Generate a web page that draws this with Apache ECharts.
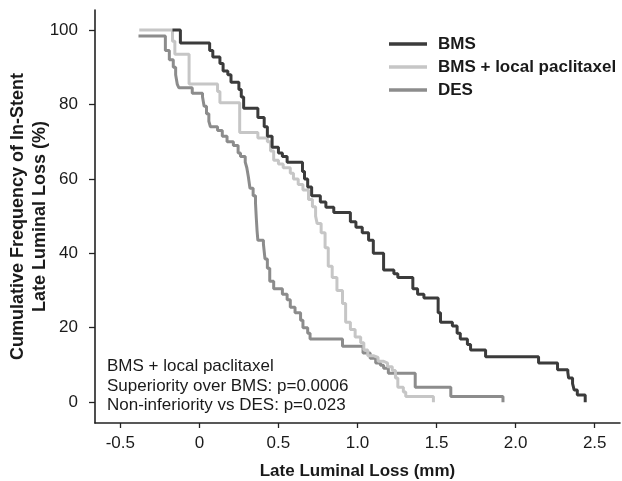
<!DOCTYPE html>
<html>
<head>
<meta charset="utf-8">
<script src="https://cdn.jsdelivr.net/npm/echarts@6/dist/echarts.min.js"></script>
<style>
html,body{margin:0;padding:0;background:#fff;}
#chart{width:622px;height:481px;}
</style>
</head>
<body>
<div id="chart"></div>
<script>
// ---- data ----
var seriesNames = ['BMS', 'BMS + local paclitaxel', 'DES'];

var bmsX = [-0.17,-0.12,0.065,0.085,0.13,0.15,0.18,0.20,0.25,0.265,0.28,0.37,0.41,0.43,0.46,0.50,0.525,0.555,0.652,0.665,0.685,0.71,0.765,0.80,0.85,0.955,0.99,1.03,1.07,1.10,1.165,1.23,1.255,1.35,1.38,1.42,1.51,1.525,1.60,1.63,1.65,1.695,1.715,1.81,2.145,2.265,2.33,2.335,2.36,2.37,2.39,2.44];
var bmsY = [100,96.5,94.5,92.8,91,89,88,86,84,82,79,76.5,74,71.5,68.5,67,66,64.5,62,60,57.8,55.5,53.8,52.4,51,48.5,47,45.5,43.5,40,35.5,34.5,33.5,30.5,29,28,24,21.5,20.5,18.5,17,15.5,14,12.2,10.5,8.7,8,6.5,5,3.3,1.9,0];

var localX = [-0.38,-0.17,-0.155,-0.065,0.115,0.13,0.255,0.37,0.43,0.45,0.47,0.50,0.53,0.575,0.595,0.625,0.655,0.69,0.715,0.735,0.745,0.77,0.795,0.815,0.84,0.87,0.905,0.925,0.955,0.985,1.02,1.04,1.065,1.10,1.13,1.165,1.19,1.22,1.24,1.255,1.29,1.305,1.48];
var localY = [100,97,93.5,85.5,83.5,80.5,72.5,71,70,67.5,65,64,63,61.5,60,58.5,57,54.5,52.5,50,48,45.5,41.5,36.5,33.5,30,26.5,21.5,19.5,17.5,16,14,12.5,12,11,10.5,9.5,8.5,6.5,4,2.7,1.5,0];

var desX = [-0.385,-0.215,-0.19,-0.165,-0.15,-0.14,-0.13,-0.045,0.02,0.03,0.045,0.06,0.07,0.115,0.145,0.175,0.215,0.245,0.26,0.29,0.30,0.31,0.32,0.34,0.355,0.36,0.365,0.37,0.405,0.415,0.43,0.445,0.47,0.525,0.555,0.575,0.605,0.64,0.655,0.685,0.70,0.905,1.035,1.08,1.115,1.145,1.165,1.195,1.365,1.59,1.92];
var desY = [98.4,94.5,92,90,88,85.5,84.5,83,82,79.5,77.5,75.5,74,73,71.5,70,69,67,66,64.5,63,60.5,57.5,55.5,53.5,49.5,46,43.5,42.5,38.5,36,32.5,30.5,29,27.5,25.5,24,22,20,18.5,17,15,13.2,11.8,10.5,9.9,9.1,7.8,4,1.5,0];

var xTickValues = [-0.5, 0, 0.5, 1.0, 1.5, 2.0, 2.5];
var xTickLabels = ['-0.5', '0', '0.5', '1.0', '1.5', '2.0', '2.5'];
var yTickValues = [0, 20, 40, 60, 80, 100];
var yTickLabels = ['0', '20', '40', '60', '80', '100'];

var annotationLines = ['BMS + local paclitaxel', 'Superiority over BMS: p=0.0006', 'Non-inferiority vs DES: p=0.023'];

// ---- build ----
function zip(xs, ys) { return xs.map(function (x, i) { return [x, ys[i]]; }); }
function lookup(vals, labels, v) {
  for (var i = 0; i < vals.length; i++) { if (Math.abs(vals[i] - v) < 1e-9) return labels[i]; }
  return '';
}
var txt = '#1a1a1a';
var font = 'Liberation Sans, Arial, sans-serif';
var colors = ['#3b3b3b', '#c6c6c6', '#8c8c8c'];

var chart = echarts.init(document.getElementById('chart'), null, {renderer: 'canvas'});
chart.setOption({
  animation: false,
  backgroundColor: '#ffffff',
  color: colors,
  grid: {left: 95, right: 2, top: 10, bottom: 58, containLabel: false, outerBoundsMode: 'none'},
  legend: {
    orient: 'vertical', left: 389, top: 34, padding: 0,
    itemWidth: 38, itemHeight: 14, itemGap: 3,
    data: seriesNames.map(function (n, i) { return {name: n, icon: 'path://M0,0 L38,0 L38,3.5 L0,3.5 Z', itemStyle: {color: colors[i]}}; }),
    textStyle: {fontSize: 17, fontWeight: 'bold', color: txt, fontFamily: font, lineHeight: 20, padding: [0, 0, 0, 6]}
  },
  graphic: [{
    type: 'text', left: 107, top: 357,
    style: {text: annotationLines.join('\n'), fontSize: 17, lineHeight: 19.5, fill: txt, fontFamily: font}
  }],
  xAxis: {
    type: 'value', min: -0.66, max: 2.66,
    name: 'Late Luminal Loss (mm)', nameLocation: 'middle', nameGap: 40, nameMoveOverlap: false,
    nameTextStyle: {fontSize: 17, fontWeight: 'bold', color: txt, fontFamily: font},
    axisLine: {show: true, onZero: false, lineStyle: {color: '#222', width: 1.6}},
    axisTick: {show: true, length: 5, customValues: xTickValues, lineStyle: {color: '#222', width: 1.3}},
    axisLabel: {customValues: xTickValues, margin: 12, fontSize: 17, color: txt, fontFamily: font,
      formatter: function (v) { return lookup(xTickValues, xTickLabels, v); }},
    splitLine: {show: false}
  },
  yAxis: {
    type: 'value', min: -5.6, max: 105.4,
    name: 'Cumulative Frequency of In-Stent\nLate Luminal Loss (%)', nameLocation: 'middle', nameGap: 43.5, nameMoveOverlap: false,
    nameTextStyle: {fontSize: 18, fontWeight: 'bold', color: txt, lineHeight: 22, fontFamily: font},
    axisLine: {show: true, onZero: false, lineStyle: {color: '#222', width: 1.6}},
    axisTick: {show: true, length: 6, customValues: yTickValues, lineStyle: {color: '#222', width: 1.3}},
    axisLabel: {customValues: yTickValues, margin: 17, fontSize: 17, color: txt, fontFamily: font,
      formatter: function (v) { return lookup(yTickValues, yTickLabels, v); }},
    splitLine: {show: false}
  },
  series: [
    {name: seriesNames[2], type: 'line', step: 'end', symbol: 'none', data: zip(desX, desY), lineStyle: {width: 3, color: colors[2]}, z: 2},
    {name: seriesNames[1], type: 'line', step: 'end', symbol: 'none', data: zip(localX, localY), lineStyle: {width: 3, color: colors[1]}, z: 3},
    {name: seriesNames[0], type: 'line', step: 'end', symbol: 'none', data: zip(bmsX, bmsY), lineStyle: {width: 3, color: colors[0]}, z: 4}
  ]
});
</script>
</body>
</html>
